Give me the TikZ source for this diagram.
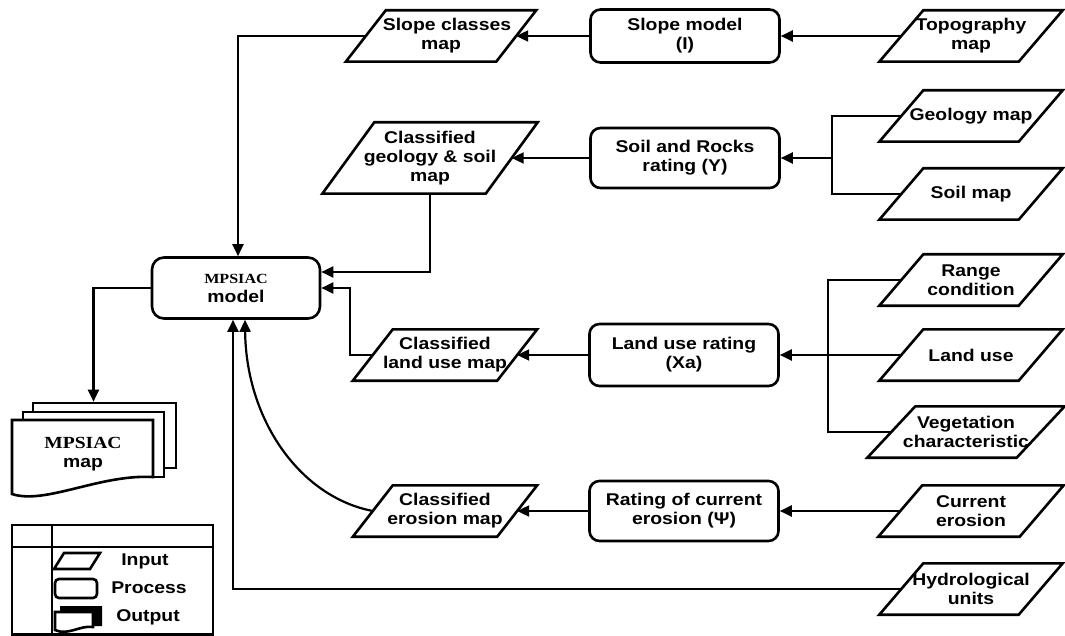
\documentclass[tikz,border=0pt]{standalone}
\usepackage{fontspec}
\setmainfont{Liberation Sans}[FakeStretch=1.14]
\newfontfamily\mpsfont{Liberation Serif}[FakeStretch=1.15]
\usetikzlibrary{arrows.meta,calc}
\begin{document}
\begin{tikzpicture}[x=1pt,y=-1pt,
  every node/.style={font=\bfseries\fontsize{17}{19}\selectfont, align=center, inner sep=0pt},
  shapeline/.style={line width=2.6pt, line join=miter},
  inp/.style={rectangle, minimum height=51pt,
    append after command={\pgfextra{\draw[shapeline]
      ([xshift=-#1]\tikzlastnode.south west) -- ([xshift=-#1]\tikzlastnode.south east) --
      ([xshift=#1]\tikzlastnode.north east) -- ([xshift=#1]\tikzlastnode.north west) -- cycle;}}},
  inp/.default=22pt,
  proc/.style={rectangle, draw, rounded corners=10pt, line width=2.6pt, minimum width=189pt, minimum height=56pt},
  conn/.style={line width=2.2pt},
  arr/.style={conn, -{Triangle[length=12pt,width=11pt]}}]
\useasboundingbox (0,0) rectangle (1065,636);
\fill[white] (0,0) rectangle (1065,636);

% inputs
\node[inp, minimum width=139pt] (topo) at (971,36) {Topography\\map};
\node[inp, minimum width=139pt] (geology) at (971,116) {Geology map};
\node[inp, minimum width=139pt] (soil) at (971,194) {Soil map};
\node[inp, minimum width=139pt] (range) at (971,280) {Range\\condition};
\node[inp, minimum width=139pt] (landuse) at (971,355) {Land use};
\node[inp=24pt, minimum width=149pt] (veg) at (966,432) {Vegetation\\characteristic};
\node[inp, minimum width=141pt] (curer) at (971,511) {Current\\erosion};
\node[inp, minimum width=139pt] (hydro) at (971,589) {Hydrological\\units};

% outputs (classified maps)
\node[inp=20pt, minimum width=150pt] (slopemap) at (441,36) {\hspace*{12pt}Slope classes\\map};
\node[inp=26pt, minimum width=163pt, minimum height=71pt] (geomap) at (430,158) {Classified\\geology \& soil\\map};
\node[inp=20pt, minimum width=144pt] (landmap) at (445,355) {Classified\\land use map};
\node[inp=20pt, minimum width=144pt] (erosmap) at (445,511) {Classified\\erosion map};

% processes
\node[proc, minimum height=53pt] (slopemod) at (685,36) {Slope model\\(I)};
\node[proc, minimum height=60pt] (soilrock) at (685,158) {Soil and Rocks\\rating (Y)};
\node[proc, minimum height=62pt] (lurate) at (684,355) {Land use rating\\(Xa)};
\node[proc, minimum height=60pt] (rating) at (684,511) {Rating of current\\erosion (Ψ)};
\node[proc, minimum width=168pt, minimum height=61pt, rounded corners=12pt] (model) at (236,288)
  {{\mpsfont\fontsize{14}{16}\selectfont MPSIAC}\\model};

% output document stack
\node[rectangle, draw, line width=2.6pt, fill=white, minimum width=143pt, minimum height=65pt] (mapback) at (104.5,435.5) {};
\node[rectangle, draw, line width=2.6pt, fill=white, minimum width=141pt, minimum height=65pt] (mapmid) at (93.5,444.5) {};
\draw[shapeline, fill=white] (12,420) -- (153,420) -- (153,477) .. controls (100,474) and (45,505) .. (12,494) -- cycle;
\node (mapdoc) at (83,454) {{\mpsfont\fontsize{17}{19}\selectfont MPSIAC}\\map};

% connectors
\draw[arr] (topo.west) -- (slopemod.east);
\draw[arr] (slopemod.west) -- (slopemap.east);
\draw[arr] (slopemap.west) -| ($(model.north)+(2,0)$);

\coordinate (gsj) at (832,158);
\draw[conn] (geology.west) -| (gsj);
\draw[conn] (soil.west) -| (gsj);
\draw[arr] (gsj) -- (soilrock.east);
\draw[arr] (soilrock.west) -- (geomap.east);
\draw[arr] (geomap.south) |- ($(model.east)+(0,-16)$);

\coordinate (vb) at (828,432);
\draw[conn] (range.west) -| (vb) -- (veg.west);
\draw[arr] (landuse.west) -- (lurate.east);
\draw[arr] (lurate.west) -- (landmap.east);
\coordinate (lj) at (350,288);
\draw[arr] (landmap.west) -| (lj) -- (model.east);

\draw[arr] (curer.west) -- (rating.east);
\draw[arr] (rating.west) -- (erosmap.east);
\draw[arr] (erosmap.west) .. controls (300,497) and (246,420) .. ($(model.south)+(9,0)$);
\draw[arr] (hydro.west) -| ($(model.south)+(-3,0)$);

\draw[arr] (model.west) -| ($(mapback.north)+(-11,0)$);

% legend
\draw[shapeline] (12,525) rectangle (213,634.5);
\draw[shapeline] (12,547) -- (213,547);
\draw[shapeline] (52,525) -- (52,635);
\draw[shapeline] (54,569) -- (90,569) -- (100,553) -- (64,553) -- cycle;
\node (linput) at (145,561) {Input};
\draw[shapeline, rounded corners=4pt] (55,579) rectangle (97,598);
\node (lproc) at (149,588) {Process};
\fill (60,606) -- (102,606) -- (102,626) -- (92,626) -- (92,612) -- (60,612) -- cycle;
\draw[shapeline, fill=white] (55,612) -- (93,612) -- (93,627) .. controls (80,625) and (68,636) .. (55,630) -- cycle;
\node (lout) at (148,617) {Output};
\end{tikzpicture}
\end{document}
